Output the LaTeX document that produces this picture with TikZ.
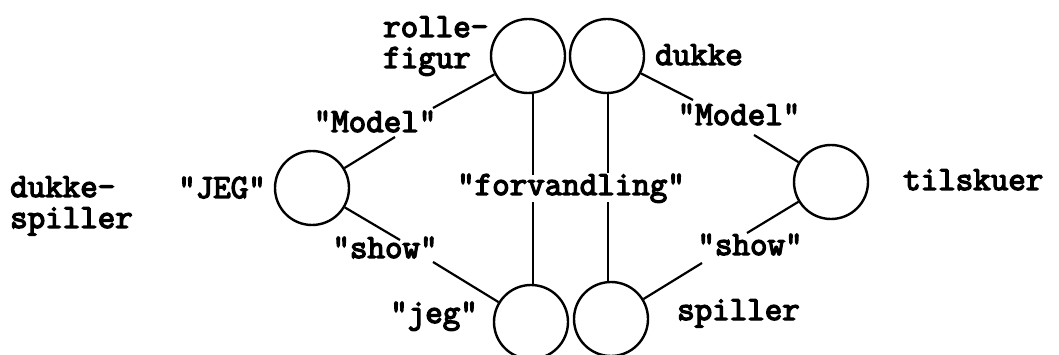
\documentclass[tikz,border=0pt]{standalone}
\usepackage{fontspec}
\newfontfamily\typew[FakeBold=4]{Latin Modern Mono}
\begin{document}
\begin{tikzpicture}[x=1pt,y=-1pt,
  ring/.style={draw, circle, minimum size=74pt, inner sep=0pt, line width=2.4pt},
  lbl/.style={inner sep=0pt, font=\typew\fontsize{34}{31}\selectfont, align=left},
  conn/.style={line width=2.2pt}]
\useasboundingbox (0,0) rectangle (1059,355);
% circles
\node[ring] (rf) at (528,56) {};
\node[ring] (du) at (607,56) {};
\node[ring] (jc) at (312,188) {};
\node[ring] (ti) at (831,182) {};
\node[ring] (je) at (531,322) {};
\node[ring] (sp) at (611,319) {};
% labels
\node[lbl, anchor=base west] (lrf) at (383,68) {rolle-\\figur};
\node[lbl, anchor=base west] (ldu) at (655,65) {dukke};
\node[lbl, anchor=base] (lm1) at (375,132) {"Model"};
\node[lbl, anchor=base] (ljeg) at (222,198) {"JEG"};
\node[lbl, anchor=base west] (lds) at (10,228) {dukke-\\spiller};
\node[lbl, anchor=base] (lfv) at (571,195) {"forvandling"};
\node[lbl, anchor=base west] (lti) at (903,190) {tilskuer};
\node[lbl, anchor=base] (ls1) at (385,258) {"show"};
\node[lbl, anchor=base] (ljg) at (434,323) {"jeg"};
\node[lbl, anchor=base] (ls2) at (750,255) {"show"};
\node[lbl, anchor=base west] (lsp) at (677,320) {spiller};
\node[lbl, anchor=base] (lm2) at (739,125) {"Model"};
% connector break points
\coordinate (a1) at (433,108);
\coordinate (a2) at (395,137);
\coordinate (b1) at (400,240);
\coordinate (b2) at (433,262);
\coordinate (c1) at (693,100);
\coordinate (c2) at (754,135);
\coordinate (d1) at (747,233);
\coordinate (d2) at (702,263);
\coordinate (v1a) at (533,175);
\coordinate (v1b) at (533,202);
\coordinate (v2a) at (608,173);
\coordinate (v2b) at (608,202);
% connectors
\draw[conn] (rf) -- (a1);
\draw[conn] (a2) -- (jc);
\draw[conn] (jc) -- (b1);
\draw[conn] (b2) -- (je);
\draw[conn] (du) -- (c1);
\draw[conn] (c2) -- (ti);
\draw[conn] (ti) -- (d1);
\draw[conn] (d2) -- (sp);
\draw[conn] (rf.south -| v1a) -- (v1a);
\draw[conn] (v1b) -- (je.north -| v1b);
\draw[conn] (du.south -| v2a) -- (v2a);
\draw[conn] (v2b) -- (sp.north -| v2b);
\end{tikzpicture}
\end{document}
